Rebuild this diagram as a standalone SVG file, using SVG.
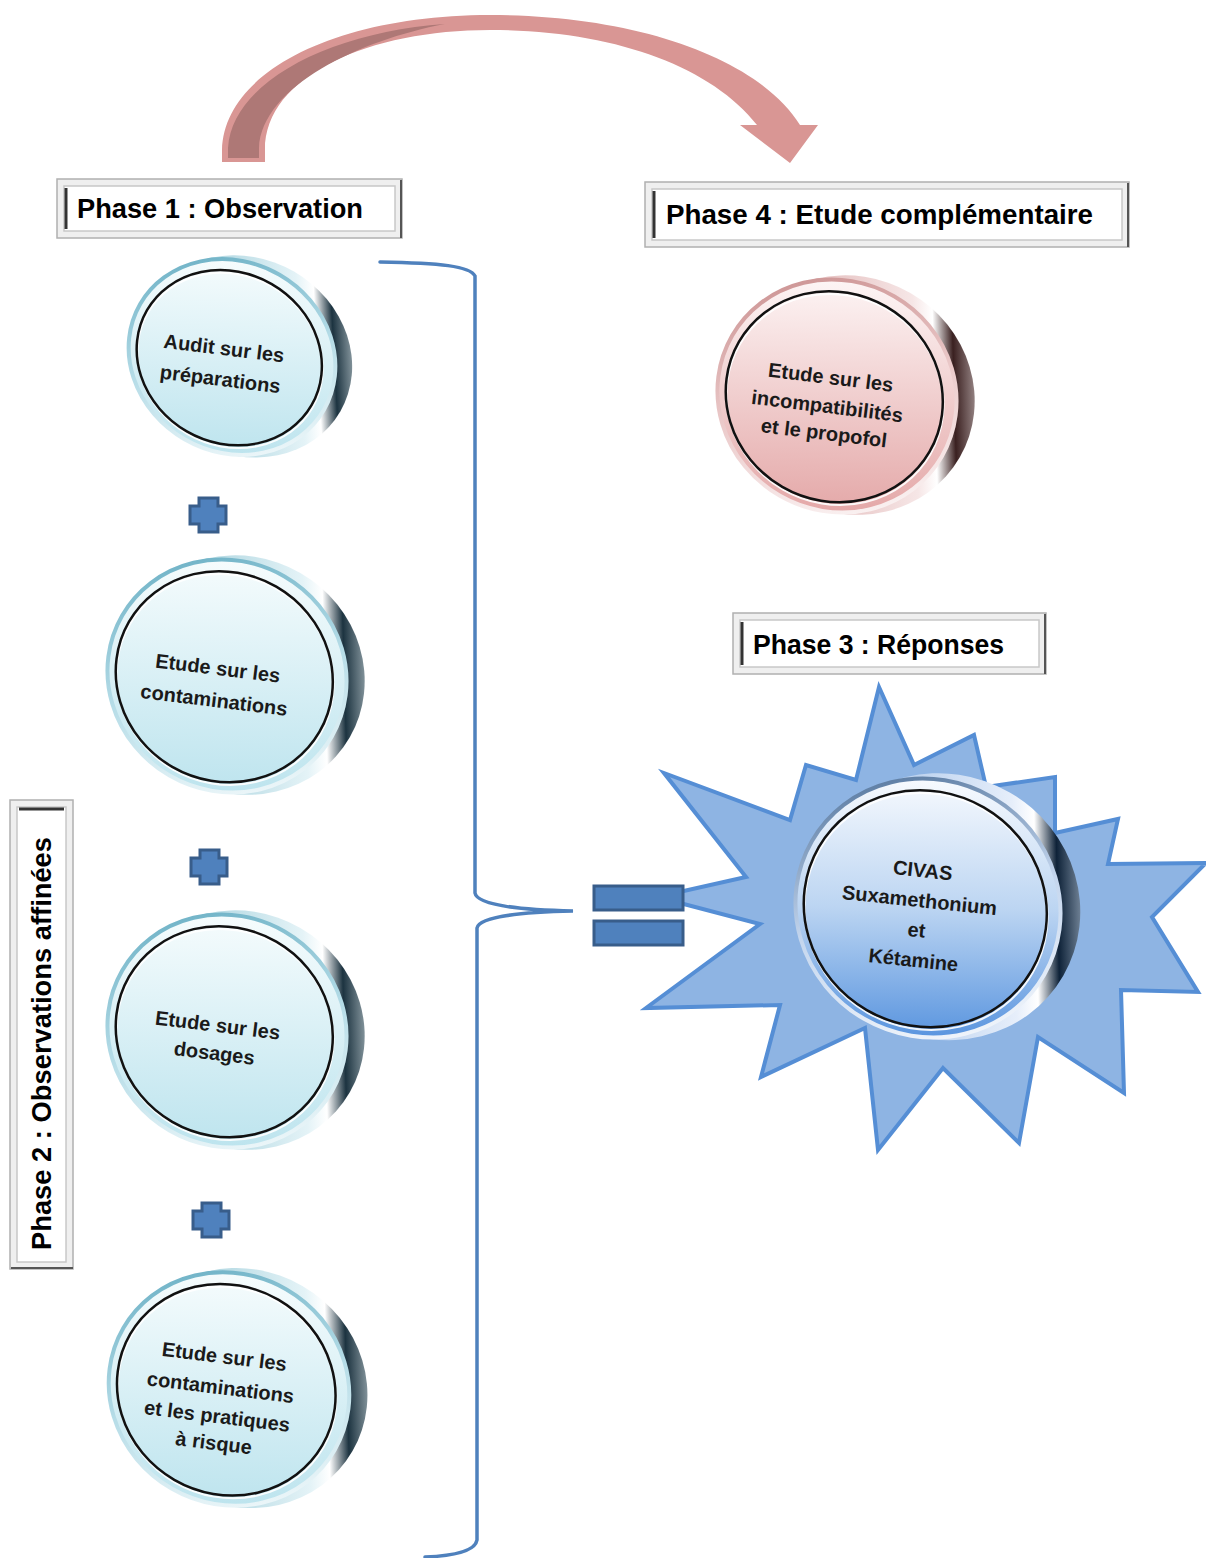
<svg xmlns="http://www.w3.org/2000/svg" width="1206" height="1558" viewBox="0 0 1206 1558">
<style>
.lbl{font-family:"Liberation Sans",Arial,sans-serif;font-weight:bold;fill:#000}
.bt{font-family:"Liberation Sans",Arial,sans-serif;font-weight:bold;font-size:20px;fill:#1a1a1a;text-anchor:middle}
.ring{fill:none;stroke:#111;stroke-width:2.5}
.hl{fill:none;stroke:#fff;stroke-width:2;opacity:.9}
.plus{fill:#4F81BD;stroke:#385D8A;stroke-width:3}
.br{fill:none;stroke:#4F81BD;stroke-width:3.5;stroke-linecap:round}
.bxo{fill:#efefef;stroke:#b0b0b0;stroke-width:1.5}
.bxi{fill:#fff;stroke:#c8c8c8;stroke-width:1.5}
</style>
<defs>
<linearGradient id="faceC" x1="0.25" y1="0.07" x2="0.75" y2="0.93"><stop offset="0" stop-color="#f6fcfd"/><stop offset="1" stop-color="#bde4ee"/></linearGradient>
<linearGradient id="faceP" x1="0.25" y1="0.07" x2="0.75" y2="0.93"><stop offset="0" stop-color="#fdf5f5"/><stop offset="1" stop-color="#e4a8a8"/></linearGradient>
<linearGradient id="faceB" x1="0.25" y1="0.07" x2="0.75" y2="0.93"><stop offset="0" stop-color="#f7fafe"/><stop offset="0.5" stop-color="#bcd5f2"/><stop offset="1" stop-color="#5a95df"/></linearGradient>
<linearGradient id="rimC" x1="0.07" y1="0.75" x2="0.93" y2="0.25"><stop offset="0" stop-color="#7fbccc"/><stop offset="0.76" stop-color="#e4f3f7"/><stop offset="0.84" stop-color="#ffffff"/><stop offset="0.92" stop-color="#1c3340"/><stop offset="1" stop-color="#7d8e96"/></linearGradient>
<linearGradient id="rimP" x1="0.07" y1="0.75" x2="0.93" y2="0.25"><stop offset="0" stop-color="#d49a9a"/><stop offset="0.76" stop-color="#f6e6e6"/><stop offset="0.84" stop-color="#ffffff"/><stop offset="0.92" stop-color="#3a2020"/><stop offset="1" stop-color="#8f7d7d"/></linearGradient>
<linearGradient id="rimB" x1="0.07" y1="0.75" x2="0.93" y2="0.25"><stop offset="0" stop-color="#8fb4e3"/><stop offset="0.76" stop-color="#e6eefa"/><stop offset="0.84" stop-color="#ffffff"/><stop offset="0.92" stop-color="#0e2238"/><stop offset="1" stop-color="#6a7c90"/></linearGradient>
<linearGradient id="edgeC" x1="0" y1="0" x2="1" y2="1"><stop offset="0" stop-color="#5aa6bd"/><stop offset="0.5" stop-color="#b5dce7"/><stop offset="1" stop-color="#ffffff"/></linearGradient>
<linearGradient id="edgeP" x1="0" y1="0" x2="1" y2="1"><stop offset="0" stop-color="#c48585"/><stop offset="0.5" stop-color="#ebcaca"/><stop offset="1" stop-color="#ffffff"/></linearGradient>
<linearGradient id="edgeB" x1="0" y1="0" x2="1" y2="1"><stop offset="0" stop-color="#3a5f8a"/><stop offset="0.5" stop-color="#c4d6ee"/><stop offset="1" stop-color="#ffffff"/></linearGradient>
</defs>

<!-- connectors -->
<g id="connectors">
  <g id="phase-arrow">
    <path d="M222,162 L222,150 C224,70 340,15 490,15 C640,15 760,60 800,125 L818,125 L790,163 L740,125 L757,125 C710,65 610,30 490,30 C370,30 265,75 265,150 L265,162 Z" fill="#D99694"/>
    <path d="M228,158 L228,148 C232,82 330,32 445,24 C360,40 262,86 259,148 L259,158 Z" fill="#AE7876"/>
  </g>
  <path class="br" d="M380,262 C440,263 470,266 475,276 L475,893 C477,905 520,910 573,911 C520,912 479,917 477,928 L477,1540 C475,1552 450,1556 425,1557"/>
  <path class="plus" d="M199,498 H218 V506 H226 V524 H218 V532 H199 V524 H190 V506 H199 Z"/>
  <path class="plus" d="M200,850 H219 V858 H227 V876 H219 V884 H200 V876 H191 V858 H200 Z"/>
  <path class="plus" d="M202,1203 H221 V1211 H229 V1229 H221 V1237 H202 V1229 H193 V1211 H202 Z"/>
</g>

<!-- labels -->
<g id="label-phase1">
  <rect class="bxo" x="57" y="179" width="345" height="59"/>
  <rect class="bxi" x="64" y="186" width="331" height="45"/>
  <line x1="66" y1="188" x2="66" y2="229" stroke="#333" stroke-width="3"/>
  <line x1="401" y1="180" x2="401" y2="238" stroke="#555" stroke-width="2"/>
  <text class="lbl" x="77" y="218" font-size="27" textLength="286" lengthAdjust="spacingAndGlyphs">Phase 1 : Observation</text>
</g>
<g id="label-phase4">
  <rect class="bxo" x="645" y="182" width="484" height="65"/>
  <rect class="bxi" x="652" y="189" width="470" height="51"/>
  <line x1="654" y1="191" x2="654" y2="238" stroke="#333" stroke-width="3"/>
  <line x1="1128" y1="183" x2="1128" y2="247" stroke="#555" stroke-width="2"/>
  <text class="lbl" x="666" y="224" font-size="27" textLength="427" lengthAdjust="spacingAndGlyphs">Phase 4 : Etude complémentaire</text>
</g>
<g id="label-phase3">
  <rect class="bxo" x="733" y="613" width="313" height="61"/>
  <rect class="bxi" x="740" y="620" width="299" height="47"/>
  <line x1="742" y1="622" x2="742" y2="665" stroke="#333" stroke-width="3"/>
  <line x1="1045" y1="614" x2="1045" y2="674" stroke="#555" stroke-width="2"/>
  <text class="lbl" x="753" y="654" font-size="27" textLength="251" lengthAdjust="spacingAndGlyphs">Phase 3 : Réponses</text>
</g>
<g id="label-phase2">
  <rect class="bxo" x="10" y="800" width="63" height="469"/>
  <rect class="bxi" x="17" y="807" width="49" height="455"/>
  <line x1="19" y1="809" x2="64" y2="809" stroke="#333" stroke-width="3"/>
  <line x1="11" y1="1268" x2="73" y2="1268" stroke="#555" stroke-width="2"/>
  <text class="lbl" transform="translate(51,1250) rotate(-90)" x="0" y="0" font-size="27" textLength="413" lengthAdjust="spacingAndGlyphs">Phase 2 : Observations affinées</text>
</g>

<!-- node 1 -->
<g id="node-audit">
  <g transform="translate(232,357) rotate(30)">
    <ellipse cx="11" cy="-7" rx="110" ry="98" fill="url(#rimC)"/>
    <ellipse cx="0" cy="0" rx="106" ry="95" fill="url(#faceC)" stroke="url(#edgeC)" stroke-width="4"/>
    <ellipse class="hl" cx="0" cy="4" rx="95" ry="85"/>
    <ellipse class="ring" cx="-2" cy="2" rx="95" ry="85"/>
  </g>
  <g transform="rotate(7,222,365)">
    <text class="bt" x="222" y="355">Audit sur les</text>
    <text class="bt" x="222" y="386">préparations</text>
  </g>
</g>

<!-- node 2 -->
<g id="node-contaminations">
  <g transform="translate(227,676) rotate(30)">
    <ellipse cx="12" cy="-8" rx="125" ry="118" fill="url(#rimC)"/>
    <ellipse cx="0" cy="0" rx="121" ry="115" fill="url(#faceC)" stroke="url(#edgeC)" stroke-width="4"/>
    <ellipse class="hl" cx="0" cy="4" rx="110" ry="104"/>
    <ellipse class="ring" cx="-2" cy="2" rx="110" ry="104"/>
  </g>
  <g transform="rotate(7,216,684)">
    <text class="bt" x="216" y="675">Etude sur les</text>
    <text class="bt" x="216" y="707">contaminations</text>
  </g>
</g>

<!-- node 3 -->
<g id="node-dosages">
  <g transform="translate(227,1031) rotate(30)">
    <ellipse cx="12" cy="-8" rx="125" ry="118" fill="url(#rimC)"/>
    <ellipse cx="0" cy="0" rx="121" ry="115" fill="url(#faceC)" stroke="url(#edgeC)" stroke-width="4"/>
    <ellipse class="hl" cx="0" cy="4" rx="110" ry="104"/>
    <ellipse class="ring" cx="-2" cy="2" rx="110" ry="104"/>
  </g>
  <g transform="rotate(7,216,1039)">
    <text class="bt" x="216" y="1032">Etude sur les</text>
    <text class="bt" x="216" y="1060">dosages</text>
  </g>
</g>

<!-- node 4 -->
<g id="node-pratiques">
  <g transform="translate(229,1389) rotate(30)">
    <ellipse cx="12" cy="-8" rx="126" ry="118" fill="url(#rimC)"/>
    <ellipse cx="0" cy="0" rx="122" ry="115" fill="url(#faceC)" stroke="url(#edgeC)" stroke-width="4"/>
    <ellipse class="hl" cx="0" cy="4" rx="111" ry="104"/>
    <ellipse class="ring" cx="-2" cy="2" rx="111" ry="104"/>
  </g>
  <g transform="rotate(7,218,1400)">
    <text class="bt" x="219" y="1363">Etude sur les</text>
    <text class="bt" x="219" y="1394">contaminations</text>
    <text class="bt" x="219" y="1423">et les pratiques</text>
    <text class="bt" x="219" y="1450">à risque</text>
  </g>
</g>

<!-- node 5 -->
<g id="node-propofol">
  <g transform="translate(837,396) rotate(30)">
    <ellipse cx="12" cy="-8" rx="125" ry="118" fill="url(#rimP)"/>
    <ellipse cx="0" cy="0" rx="121" ry="115" fill="url(#faceP)" stroke="url(#edgeP)" stroke-width="4"/>
    <ellipse class="hl" cx="0" cy="4" rx="110" ry="104"/>
    <ellipse class="ring" cx="-2" cy="2" rx="110" ry="104"/>
  </g>
  <g transform="rotate(7,827,408)">
    <text class="bt" x="827" y="384">Etude sur les</text>
    <text class="bt" x="827" y="413">incompatibilités</text>
    <text class="bt" x="827" y="440">et le propofol</text>
  </g>
</g>

<!-- node 6 (star) -->
<g id="node-civas">
  <polygon points="879,687 914,765 974,735 986,787 1055,777 1055,833 1118,819 1108,864 1206,863 1152,917 1198,992 1121,990 1124,1093 1038,1037 1019,1143 943,1068 878,1150 865,1028 761,1077 780,1005 646,1008 760,924 657,897 746,877 664,773 790,820 806,765 856,780" fill="#8EB4E3" stroke="#558ED5" stroke-width="4" stroke-linejoin="miter"/>
  <g transform="translate(928,908) rotate(30)">
    <ellipse cx="13" cy="-9" rx="138" ry="132" fill="url(#rimB)"/>
    <ellipse cx="0" cy="0" rx="134" ry="128" fill="url(#faceB)" stroke="url(#edgeB)" stroke-width="4"/>
    <ellipse class="hl" cx="0" cy="4" rx="123" ry="117"/>
    <ellipse class="ring" cx="-2" cy="2" rx="123" ry="117"/>
  </g>
  <g transform="rotate(6,918,916)">
    <text class="bt" x="918" y="877">CIVAS</text>
    <text class="bt" x="918" y="907">Suxamethonium</text>
    <text class="bt" x="918" y="937">et</text>
    <text class="bt" x="918" y="967">Kétamine</text>
  </g>
</g>

<!-- equal sign -->
<g id="equal-sign">
  <rect class="plus" x="594" y="886" width="89" height="24" stroke-width="4"/>
  <rect class="plus" x="594" y="921" width="89" height="24" stroke-width="4"/>
</g>
</svg>
